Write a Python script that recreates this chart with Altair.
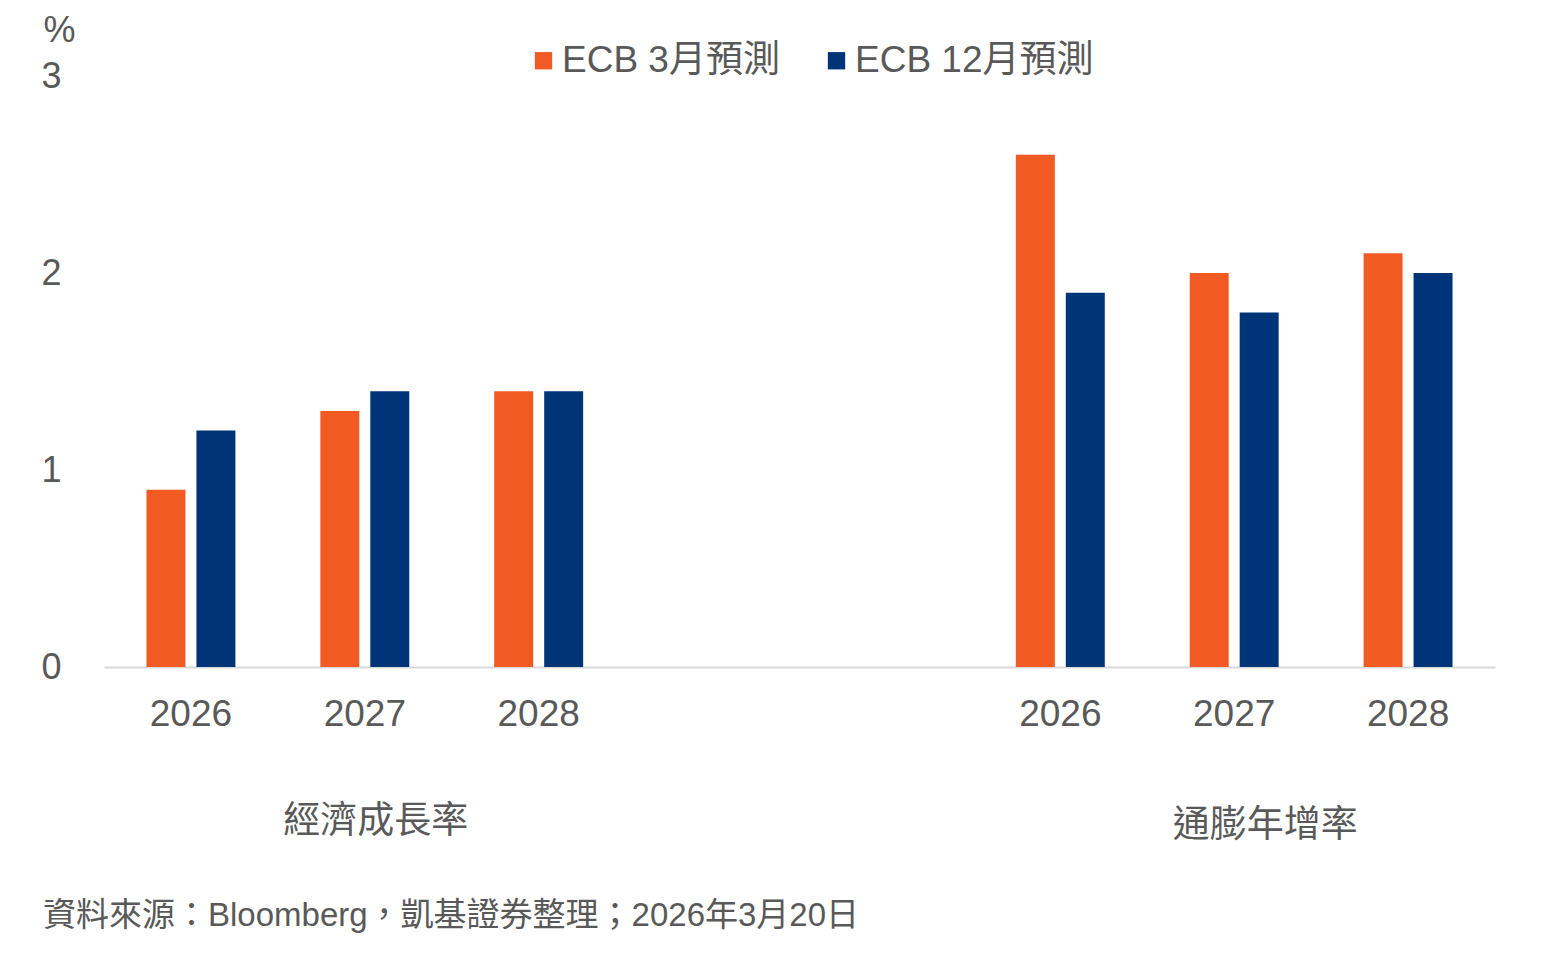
import altair as alt
import pandas as pd

# ---- data ----
slots = ["g2026", "g2027", "g2028", "e1", "e2", "i2026", "i2027", "i2028"]
years = ["2026", "2027", "2028"]
series = ["ECB 3月預測", "ECB 12月預測"]
growth_mar = [0.9, 1.3, 1.4]
growth_dec = [1.2, 1.4, 1.4]
infl_mar = [2.6, 2.0, 2.1]
infl_dec = [1.9, 1.8, 2.0]
groups = ["經濟成長率", "通膨年增率"]
group_center_slot = ["g2027", "i2027"]
source_text = "資料來源：Bloomberg，凱基證券整理；2026年3月20日"
y_ticks = [0, 1, 2, 3]

rows = []
for i, yr in enumerate(years):
    rows.append({"slot": "g" + yr, "series": series[0], "value": growth_mar[i]})
    rows.append({"slot": "g" + yr, "series": series[1], "value": growth_dec[i]})
    rows.append({"slot": "i" + yr, "series": series[0], "value": infl_mar[i]})
    rows.append({"slot": "i" + yr, "series": series[1], "value": infl_dec[i]})
df = pd.DataFrame(rows)

FONT = "Liberation Sans, Noto Sans CJK TC, Noto Sans CJK SC"
GRAY = "#595959"
ORANGE = "#F15A22"
BLUE = "#003478"

x_enc = alt.X(
    "slot:N",
    sort=slots,
    scale=alt.Scale(domain=slots, paddingInner=0, paddingOuter=0),
    axis=alt.Axis(
        title=None,
        labelExpr="substring(datum.value,0,1)=='e' ? '' : substring(datum.value,1)",
        labelAngle=0,
        labelFont=FONT,
        labelFontSize=37,
        labelColor=GRAY,
        labelPadding=29,
        ticks=False,
        domainColor="#D9D9D9",
        domainWidth=2,
    ),
)

bars = alt.Chart(df).mark_bar().encode(
    x=x_enc,
    xOffset=alt.XOffset(
        "series:N",
        sort=series,
        scale=alt.Scale(domain=series, paddingInner=0.22, paddingOuter=0.85),
    ),
    y=alt.Y(
        "value:Q",
        scale=alt.Scale(domain=[0, 3], nice=False),
        axis=alt.Axis(
            values=y_ticks,
            grid=False,
            domain=False,
            ticks=False,
            labelFont=FONT,
            labelFontSize=36,
            labelColor=GRAY,
            labelPadding=43,
            title="%",
            titleFont=FONT,
            titleFontSize=36,
            titleFontWeight="normal",
            titleColor=GRAY,
            titleAngle=0,
            titleX=-45,
            titleY=-46,
            titleAlign="center",
            titleBaseline="middle",
        ),
    ),
    color=alt.Color(
        "series:N",
        sort=series,
        scale=alt.Scale(domain=series, range=[ORANGE, BLUE]),
        legend=alt.Legend(
            title=None,
            orient="none",
            legendX=421,
            legendY=-34,
            direction="horizontal",
            symbolType="square",
            symbolSize=300,
            symbolStrokeWidth=0,
            labelFont=FONT,
            labelFontSize=37,
            labelColor=GRAY,
            labelOffset=0,
            labelLimit=600,
            columnPadding=38,
            padding=0,
        ),
    ),
)

gdf = pd.DataFrame({"slot": group_center_slot, "group": groups})
g1 = alt.Chart(gdf.iloc[[0]]).mark_text(
    font=FONT, fontSize=37, color=GRAY, align="center", baseline="middle", dx=11
).encode(x=x_enc, y=alt.value(746), text="group:N")
g2 = alt.Chart(gdf.iloc[[1]]).mark_text(
    font=FONT, fontSize=37, color=GRAY, align="center", baseline="middle", dx=31
).encode(x=x_enc, y=alt.value(750), text="group:N")

src = alt.Chart(pd.DataFrame({"t": [source_text]})).mark_text(
    font=FONT, fontSize=33, color=GRAY, align="left", baseline="middle"
).encode(x=alt.value(-61), y=alt.value(840), text="t:N")

chart = (
    alt.layer(bars, g1, g2, src)
    .properties(
        width=1391,
        height=591,
        autosize=alt.AutoSizeParams(type="none"),
        padding={"left": 96, "top": 68, "right": 40, "bottom": 270},
        background="white",
    )
    .configure_view(stroke=None, strokeWidth=0, strokeOpacity=0)
)

chart.save("out.html", embed_options={"renderer": "svg", "actions": False})
